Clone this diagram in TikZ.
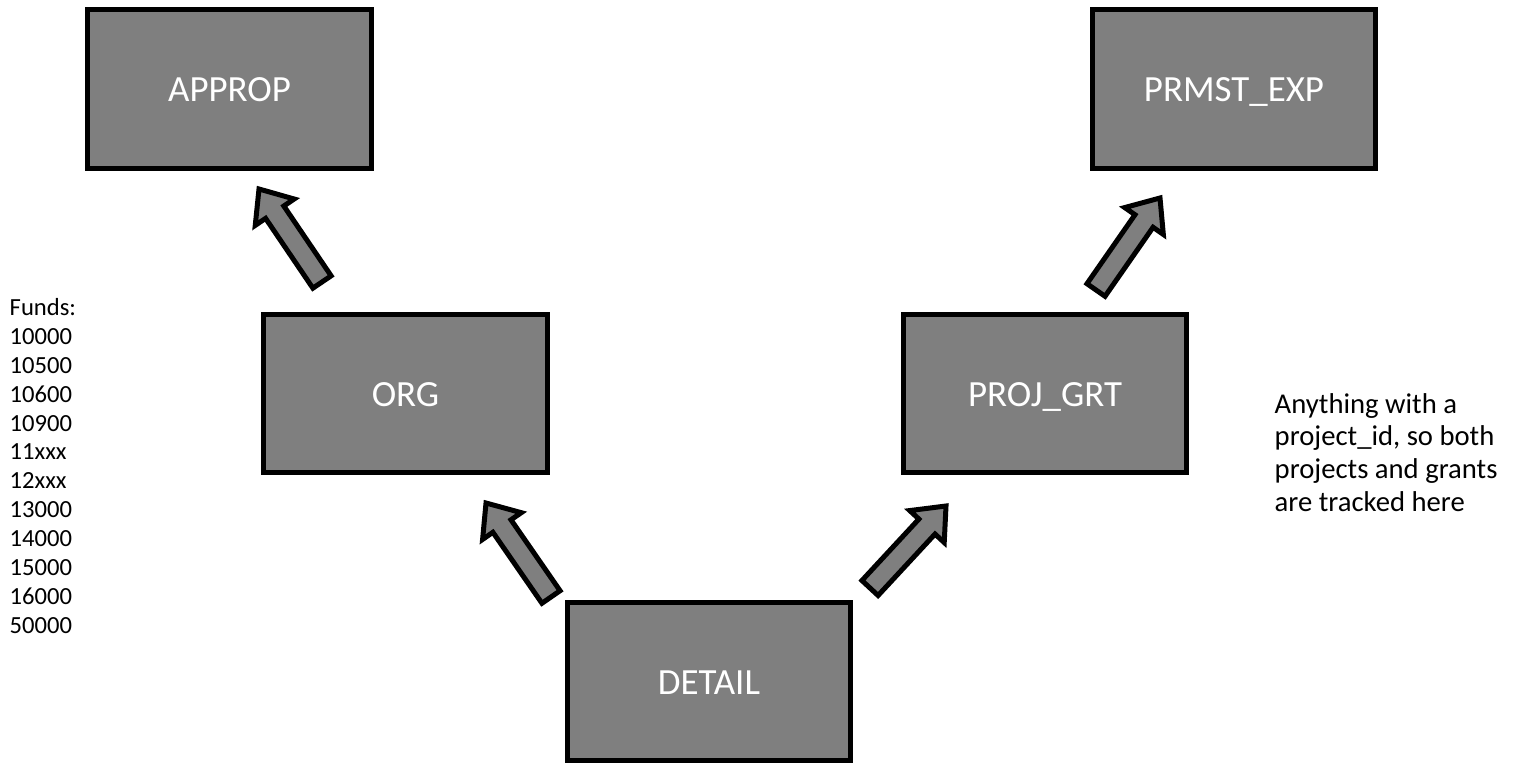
\documentclass[tikz,border=0pt]{standalone}
\usepackage{fontspec}
\setmainfont{Carlito}
\usetikzlibrary{calc}
\definecolor{boxgray}{RGB}{127,127,127}
\tikzset{
  tbl/.style={draw=black, line width=1.42pt, fill=boxgray, minimum width=2.83cm,
    minimum height=1.58cm, inner sep=0pt, text=white, text height=7.2pt, text depth=0pt,
    font=\fontsize{10.5}{12}\selectfont},
  blockarrow/.style={draw=black, line width=1.42pt, fill=boxgray, line join=miter},
  note/.style={align=left, inner sep=0pt, anchor=base west, text=black}
}
\newcommand{\blkarrow}[3]{% name, tail, tip
  \coordinate (hb-#1) at ($(#3)!0.28cm!(#2)$);
  \draw[blockarrow]
    ($(#2)!0.11cm!90:(#3)$) --
    ($(hb-#1)!0.11cm!90:(#3)$) --
    ($(hb-#1)!0.235cm!90:(#3)$) --
    (#3) --
    ($(hb-#1)!0.235cm!-90:(#3)$) --
    ($(hb-#1)!0.11cm!-90:(#3)$) --
    ($(#2)!0.11cm!-90:(#3)$) -- cycle;
}
\begin{document}
\begin{tikzpicture}[x=0.01cm, y=-0.01cm]
\useasboundingbox (0,0) rectangle (1513,764);
\fill[white] (0,0) rectangle (1513,764);

\node[tbl] (approp) at (229.5,89) {APPROP};
\node[tbl] (prmst) at (1234,89) {PRMST\_EXP};
\node[tbl] (org) at (405.5,393.5) {ORG};
\node[tbl] (proj) at (1045,393.5) {PROJ\_GRT};
\node[tbl] (detail) at (709,681.5) {DETAIL};

% arrow ends placed relative to the boxes they join
\coordinate (a1t) at ($(org)+(-83.5,-111.5)$);    \coordinate (a1h) at ($(approp)+(29.5,100)$);
\coordinate (a2t) at ($(detail)+(-158,-84.5)$);   \coordinate (a2h) at ($(org)+(80.5,109.5)$);
\coordinate (a3t) at ($(proj)+(51,-103.5)$);      \coordinate (a3h) at ($(prmst)+(-74,109)$);
\coordinate (a4t) at ($(detail)+(161,-93.5)$);    \coordinate (a4h) at ($(proj)+(-99,112.5)$);
\blkarrow{a1}{a1t}{a1h}
\blkarrow{a2}{a2t}{a2h}
\blkarrow{a3}{a3t}{a3h}
\blkarrow{a4}{a4t}{a4h}

\node[note, font=\fontsize{7.0}{8.2}\selectfont] (funds) at (9,633)
  {Funds:\\10000\\10500\\10600\\10900\\11xxx\\12xxx\\13000\\14000\\15000\\16000\\50000};
\node[note, font=\fontsize{8.15}{9.25}\selectfont] (anything) at (1274,511)
  {Anything with a\\project\_id, so both\\projects and grants\\are tracked here};
\end{tikzpicture}
\end{document}
